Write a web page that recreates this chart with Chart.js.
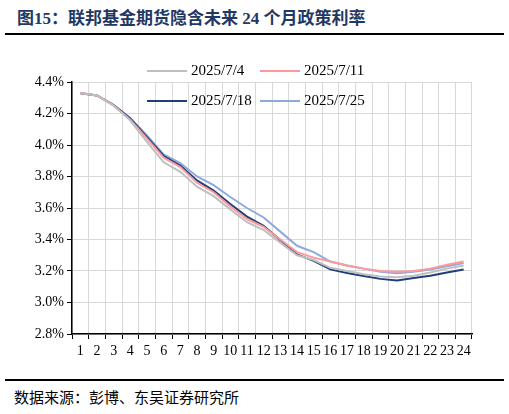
<!DOCTYPE html>
<html><head><meta charset="utf-8">
<script src="https://cdn.jsdelivr.net/npm/chart.js@4"></script>
<style>
body{margin:0;width:509px;height:414px;background:#fff;position:relative;overflow:hidden;font-family:"Liberation Serif","Noto Serif CJK SC","Noto Sans CJK SC",serif}
#title{position:absolute;left:17px;top:4px;font-size:17px;font-weight:bold;color:#1f3864;font-family:"Liberation Serif","Noto Sans CJK SC",serif}
.hr{position:absolute;left:5px;width:499px;height:2px;background:#000}
#src{position:absolute;left:14px;top:386px;font-size:15px;color:#000;font-family:"Noto Sans CJK SC",serif}
#wrap{position:absolute;left:0;top:40px;width:509px;height:335px}
.lg{position:absolute;font-size:15px;color:#000;white-space:nowrap}
.lg span{display:inline-block;width:40px;height:2px;vertical-align:middle;margin-right:4px;position:relative;top:-1px}
</style></head><body>
<div id="title">图15：联邦基金期货隐含未来 24 个月政策利率</div>
<div class="hr" style="top:33px"></div>
<div id="wrap"><canvas id="c"></canvas></div>
<div class="lg" style="left:147px;top:62px"><span style="background:#bfbfbf"></span>2025/7/4</div>
<div class="lg" style="left:260px;top:62px"><span style="background:#ff9999"></span>2025/7/11</div>
<div class="lg" style="left:147px;top:92px"><span style="background:#1f3f7a"></span>2025/7/18</div>
<div class="lg" style="left:260px;top:92px"><span style="background:#8eaadb"></span>2025/7/25</div>
<div class="hr" style="top:379px"></div>
<div id="src">数据来源：彭博、东吴证券研究所</div>
<script>
const months=['1','2','3','4','5','6','7','8','9','10','11','12','13','14','15','16','17','18','19','20','21','22','23','24'];
const s0704=[4.33,4.315,4.25,4.155,4.02,3.89,3.83,3.735,3.675,3.59,3.51,3.46,3.38,3.30,3.27,3.22,3.20,3.18,3.165,3.16,3.17,3.19,3.215,3.235];
const s0711=[4.33,4.315,4.25,4.16,4.04,3.92,3.86,3.76,3.70,3.61,3.53,3.48,3.40,3.32,3.285,3.26,3.235,3.215,3.20,3.195,3.20,3.215,3.24,3.26];
const s0718=[4.328,4.315,4.253,4.168,4.05,3.93,3.87,3.775,3.71,3.625,3.545,3.487,3.396,3.306,3.264,3.21,3.187,3.168,3.15,3.14,3.155,3.17,3.19,3.21];
const s0725=[4.33,4.315,4.253,4.17,4.06,3.94,3.885,3.80,3.745,3.67,3.60,3.54,3.45,3.36,3.32,3.26,3.235,3.215,3.195,3.185,3.195,3.21,3.23,3.25];
const yTicks=['2.8%','3.0%','3.2%','3.4%','3.6%','3.8%','4.0%','4.2%','4.4%'];
const mk=(l,d,c)=>({label:l,data:d,borderColor:c,borderWidth:2,pointRadius:0,fill:false,tension:0});
new Chart(document.getElementById('c'),{type:'line',
data:{labels:months,datasets:[mk('2025/7/4',s0704,'#bfbfbf'),mk('2025/7/11',s0711,'#ff9999'),mk('2025/7/18',s0718,'#1f3f7a'),mk('2025/7/25',s0725,'#8eaadb')]},
options:{responsive:true,maintainAspectRatio:false,animation:false,
layout:{padding:{top:42,right:37,left:0,bottom:0}},
plugins:{legend:{display:false},tooltip:{enabled:false}},
scales:{
x:{offset:true,grid:{offset:true,color:'#d9d9d9',tickColor:'#000',tickLength:5},border:{color:'#000',width:1.5},
ticks:{color:'#000',font:{family:'Liberation Serif',size:14},maxRotation:0,autoSkip:false,padding:4},
afterFit:s=>{s.height=41;}},
y:{min:2.8,max:4.4,grid:{color:'#d9d9d9',tickColor:'#000',tickLength:5},border:{color:'#000',width:1.5},
ticks:{stepSize:0.2,color:'#000',font:{family:'Liberation Serif',size:14},callback:(v,i)=>yTicks[i]},
afterFit:s=>{s.width=72;}}
}}});
</script></body></html>
